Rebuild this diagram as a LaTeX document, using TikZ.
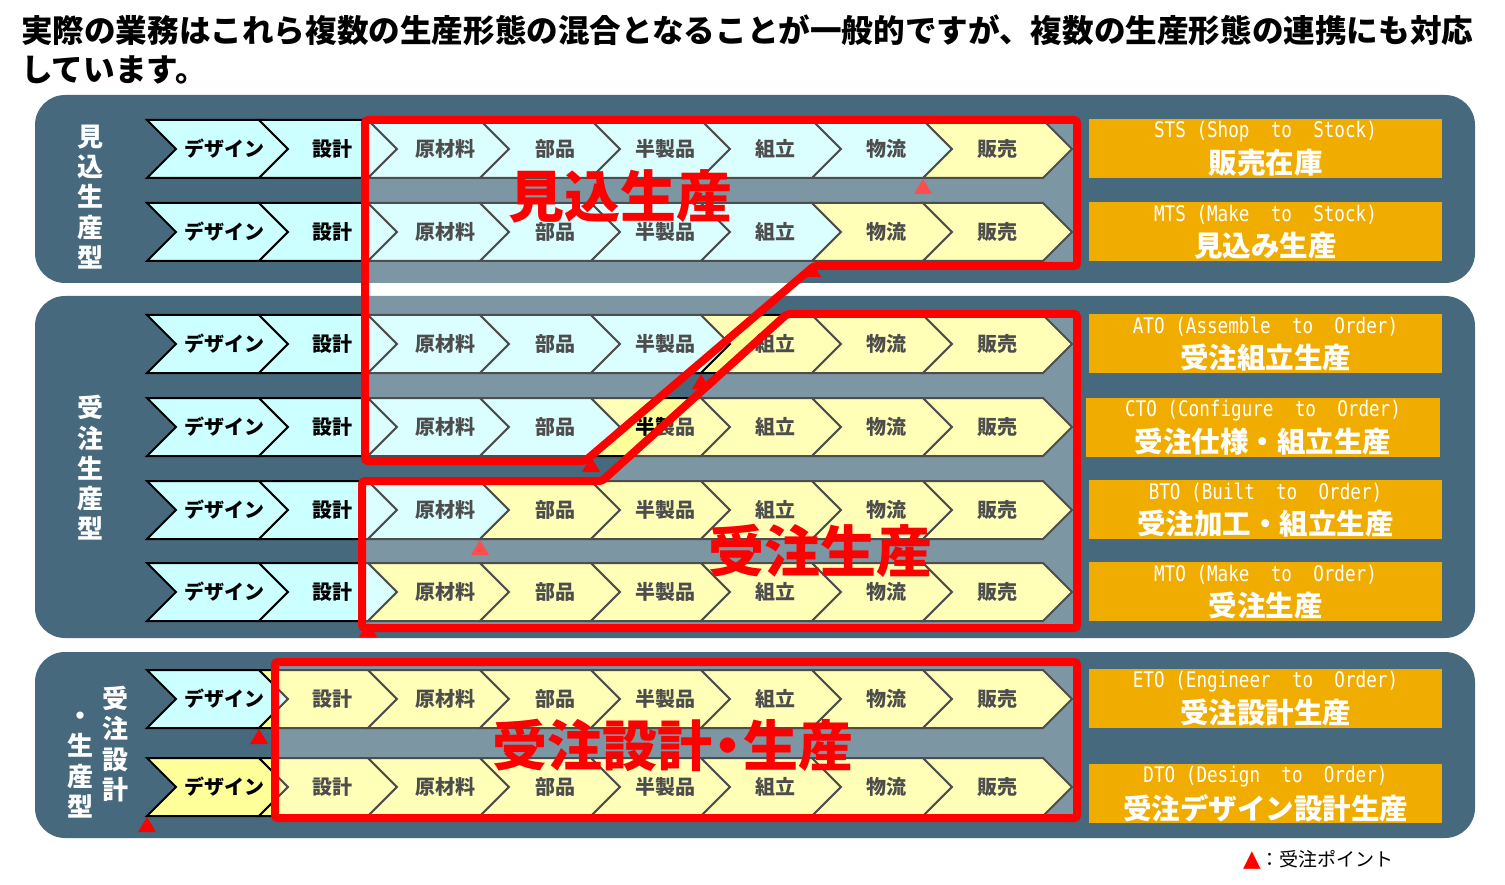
\documentclass[tikz,border=0pt]{standalone}
\usepackage{fontspec}
\usepackage{graphicx}
\newfontfamily\jp{Noto Sans CJK JP}
\newfontfamily\dv{DejaVu Sans}
\newfontfamily\mono{DejaVu Sans Mono}
\definecolor{panel}{HTML}{46697D}
\definecolor{cy}{HTML}{CCFFFF}
\definecolor{ye}{HTML}{FFFF99}
\definecolor{orng}{HTML}{F0AD00}
\begin{document}
\begin{tikzpicture}[x=1pt,y=-1pt,
  chev/.style={line width=2pt, draw=black, line join=miter},
  lab/.style={font=\jp\bfseries\fontsize{20}{24}\selectfont, inner sep=0pt},
  obox/.style={fill=orng, inner sep=0pt, anchor=north west},
  eng/.style={font=\mono\fontsize{21.5}{24}\selectfont, text=white, inner sep=0pt},
  jpn/.style={font=\jp\bfseries\fontsize{28.5}{30}\selectfont, text=white, inner sep=0pt},
  redbox/.style={draw=red, line width=8pt, rounded corners=3pt, fill=white, fill opacity=0.3},
  bigred/.style={font=\jp\bfseries\fontsize{56}{60}\selectfont, text=red, inner sep=0pt},
  side/.style={font=\jp\bfseries\fontsize{26}{30.25}\selectfont, text=white, align=center, inner sep=0pt},
  ttl/.style={font=\jp\bfseries\fontsize{31.6}{36}\selectfont, anchor=west, inner sep=0pt},
]
\useasboundingbox (0,0) rectangle (1505,885);
\fill[white] (0,0) rectangle (1505,885);

% panels
\fill[panel, rounded corners=30pt] (35,95) rectangle (1475,283);
\fill[panel, rounded corners=30pt] (35,296) rectangle (1475,638);
\fill[panel, rounded corners=30pt] (35,652) rectangle (1475,838);

% chevron rows
\foreach \r/\t/\fy in {1/120/7,2/203/6,3/315/5,4/398/4,5/481/3,6/563/2,7/670/1,8/758/0}{
  \pgfmathsetmacro\m{\t+29}
  \pgfmathsetmacro\b{\t+58}
  \foreach \c/\L/\R/\tx/\lab in {0/147/259/224/デザイン,1/259/368/332/設計,2/368/480/445/原材料,3/480/591/555/部品,4/591/701/665/半製品,5/701/812/775/組立,6/812/923/886/物流,7/923/1043/997/販売}{
    \ifnum\c<\fy\relax\def\cc{cy}\else\def\cc{ye}\fi
    \filldraw[chev, fill=\cc] (\L,\t) -- (\R,\t) -- (\R+29,\m) -- (\R,\b) -- (\L,\b) -- (\L+29,\m) -- cycle;
    \node[lab] (c\r-\c) at (\tx,\m) {\lab};
    \ifnum\c=\fy\relax
      \fill[red] (\L,\b+1) -- (\L+9,\b+16) -- (\L-9,\b+16) -- cycle;
    \fi
  }
}

% highlighted regions
\draw[redbox] (365,120) -- (1077,120) -- (1077,266) -- (814,266) -- (585,461) -- (365,461) -- cycle;
\draw[redbox] (362,481) -- (602,481) -- (787,314) -- (1077,314) -- (1077,628) -- (362,628) -- cycle;
\draw[redbox] (275,662) -- (1077,662) -- (1077,818) -- (275,818) -- cycle;

\node[bigred] (l1) at (620,196) {見込生産};
\node[bigred] (l2) at (820,551) {受注生産};
\node[bigred, font=\jp\bfseries\fontsize{55}{60}\selectfont] (l3) at (673,745) {受注設計\hspace{-12pt}・\hspace{-12pt}生産};

% orange boxes
\foreach \n/\t/\xa/\xb/\e/\j in {
  sts/119/1089/1442/{STS (Shop\ \ to\ \ Stock)}/販売在庫,
  mts/202/1089/1442/{MTS (Make\ \ to\ \ Stock)}/見込み生産,
  ato/314/1089/1442/{ATO (Assemble\ \ to\ \ Order)}/受注組立生産,
  cto/398/1086/1440/{CTO (Configure\ \ to\ \ Order)}/受注仕様・組立生産,
  bto/480/1089/1442/{BTO (Built\ \ to\ \ Order)}/受注加工・組立生産,
  mto/562/1089/1442/{MTO (Make\ \ to\ \ Order)}/受注生産,
  eto/669/1089/1442/{ETO (Engineer\ \ to\ \ Order)}/受注設計生産,
  dto/764/1089/1442/{DTO (Design\ \ to\ \ Order)}/受注デザイン設計生産}{
  \pgfmathsetmacro\w{\xb-\xa}
  \pgfmathsetmacro\cx{(\xa+\xb)/2}
  \node[obox, minimum width=\w pt, minimum height=59pt] (\n) at (\xa,\t) {};
  \node[eng] (\n-e) at (\cx,\t+12.5) {\scalebox{0.82}[1]{\e}};
  \node[jpn] (\n-j) at (\cx,\t+44) {\j};
}

% side labels
\node[side] (s1) at (90,197) {見\\込\\生\\産\\型};
\node[side] (s2) at (90,468) {受\\注\\生\\産\\型};
\node[side] (s3a) at (115,744) {受\\注\\設\\計};
\node[side] (s3b) at (80,765) {・\\生\\産\\型};

% title
\node[ttl] (t1) at (21,30) {実際の業務はこれら複数の生産形態の混合となることが一般的ですが、複数の生産形態の連携にも対応};
\node[ttl] (t2) at (21,70) {しています。};

% legend
\node[anchor=west, inner sep=0pt] (leg) at (1243,860) {{\dv\fontsize{23}{24}\selectfont\color{red}▲}{\jp\fontsize{19}{20}\selectfont ：受注ポイント}};
\end{tikzpicture}
\end{document}
